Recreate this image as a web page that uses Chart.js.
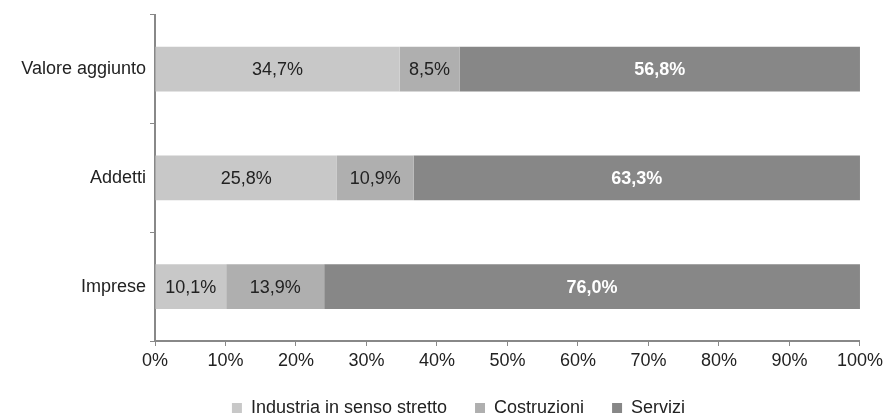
<!DOCTYPE html>
<html>
<head>
<meta charset="utf-8">
<script src="https://cdn.jsdelivr.net/npm/chart.js@4"></script>
<style>
  html, body { margin: 0; padding: 0; background: #fff; }
  #wrap { width: 887px; height: 415px; }
</style>
</head>
<body>
<div id="wrap"><canvas id="chart" width="887" height="415"></canvas></div>
<script>
// ===============================
// DATA
// ===============================
const categories = ["Valore aggiunto", "Addetti", "Imprese"];
const industria = [34.7, 25.8, 10.1];
const costruzioni = [8.5, 10.9, 13.9];
const servizi = [56.8, 63.3, 76.0];
const seriesNames = ["Industria in senso stretto", "Costruzioni", "Servizi"];

const FONT = "'Liberation Sans', Arial, sans-serif";

// ===============================
// BAR LABELS
// ===============================
const barLabels = {
  id: "barLabels",
  afterDatasetsDraw(chart) {
    const ctx = chart.ctx;
    chart.data.datasets.forEach((ds, i) => {
      const meta = chart.getDatasetMeta(i);
      meta.data.forEach((bar, j) => {
        const v = ds.data[j];
        const txt = v.toFixed(1).replace(".", ",") + "%";
        ctx.save();
        ctx.fillStyle = ds.labelColor;
        ctx.font = (ds.labelBold ? "bold " : "") + "18px " + FONT;
        ctx.textAlign = "center";
        ctx.textBaseline = "middle";
        ctx.fillText(txt, (bar.x + bar.base) / 2, bar.y + 1);
        ctx.restore();
      });
    });
  }
};

// ===============================
// LEGEND SHIFT (legend sits a bit right of centre)
// ===============================
const legendShift = {
  id: "legendShift",
  afterLayout(chart) {
    if (!chart.legend) return;
    chart.legend.left += 28;
    chart.legend.right += 28;
  }
};

// ===============================
// CHART
// ===============================
new Chart(document.getElementById("chart"), {
  type: "bar",
  data: {
    labels: categories,
    datasets: [
      { label: seriesNames[0], data: industria, backgroundColor: "#c8c8c8", labelColor: "#222", labelBold: false },
      { label: seriesNames[1], data: costruzioni, backgroundColor: "#afafaf", labelColor: "#222", labelBold: false },
      { label: seriesNames[2], data: servizi, backgroundColor: "#878787", labelColor: "#fff", labelBold: true }
    ]
  },
  options: {
    indexAxis: "y",
    responsive: false,
    animation: false,
    layout: { padding: { top: 13, right: 26, bottom: -12, left: 0 } },
    datasets: { bar: { categoryPercentage: 1, barPercentage: 0.413 } },
    scales: {
      x: {
        stacked: true,
        min: 0,
        max: 100,
        ticks: {
          stepSize: 10,
          color: "#222",
          font: { family: FONT, size: 18 },
          padding: 4,
          maxRotation: 0,
          callback: v => v + "%"
        },
        grid: { drawOnChartArea: false, drawTicks: true, tickLength: 5, color: "#888" },
        border: { color: "#888", width: 2 },
        afterFit: s => { s.height = 30; }
      },
      y: {
        stacked: true,
        ticks: {
          color: "#222",
          font: { family: FONT, size: 18 },
          padding: 4
        },
        grid: { offset: true, drawOnChartArea: false, drawTicks: true, tickLength: 5, color: "#888" },
        border: { color: "#888", width: 2 },
        afterFit: s => { s.width = 155; }
      }
    },
    plugins: {
      legend: {
        position: "bottom",
        labels: {
          color: "#222",
          font: { family: FONT, size: 18 },
          boxWidth: 10,
          boxHeight: 10,
          padding: 28
        }
      },
      tooltip: { enabled: false }
    }
  },
  plugins: [barLabels, legendShift]
});
</script>
</body>
</html>
